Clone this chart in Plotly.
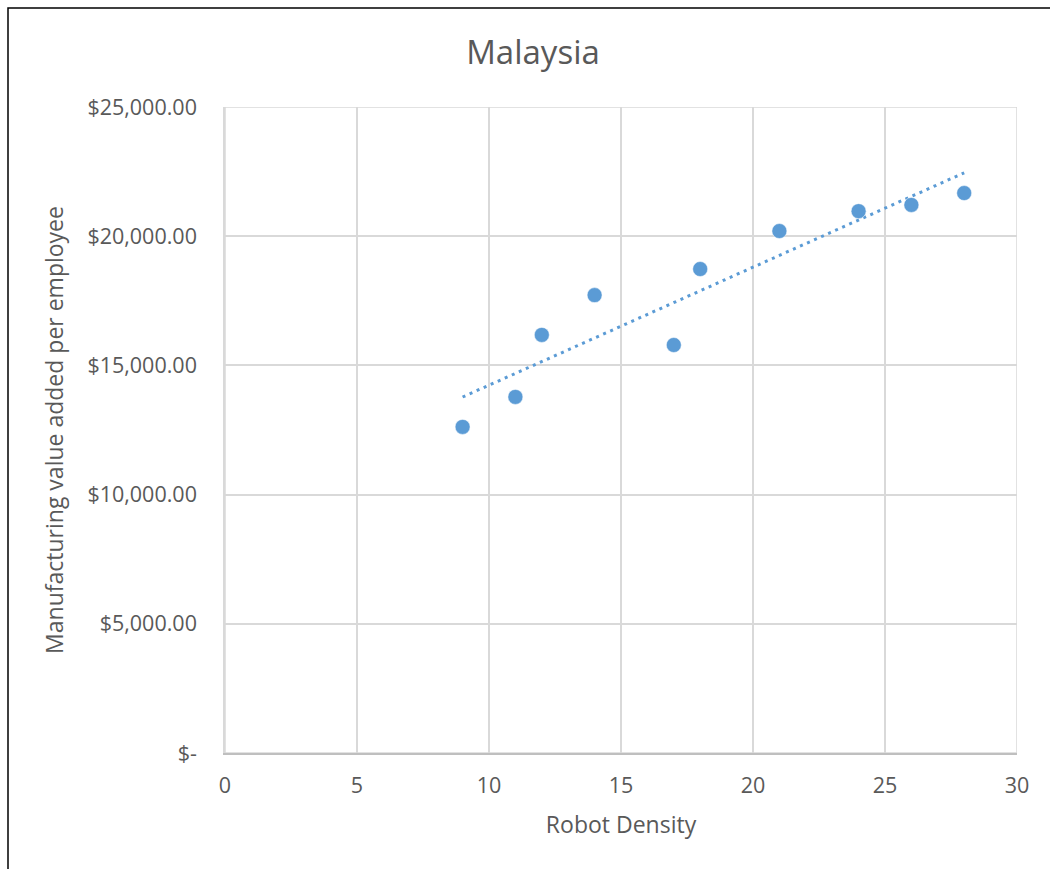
import numpy as np
import plotly.graph_objects as go

# Robot density vs. manufacturing value added per employee (Malaysia)
robot_density = [9, 11, 12, 14, 17, 18, 21, 24, 26, 28]
value_added = [12620, 13780, 16180, 17720, 15790, 18730, 20200, 20970, 21210, 21670]

y_tick_vals = [0, 5000, 10000, 15000, 20000, 25000]
y_tick_text = ["$-", "$5,000.00", "$10,000.00", "$15,000.00", "$20,000.00", "$25,000.00"]
x_tick_vals = [0, 5, 10, 15, 20, 25, 30]

# Linear trendline fitted to the series
slope, intercept = np.polyfit(robot_density, value_added, 1)
trend_x = [min(robot_density), max(robot_density)]
trend_y = [slope * v + intercept for v in trend_x]

W, H = 1050, 869
L, R, T, B = 225, 1017, 107, 753

FONT = "'Open Sans', Lato, sans-serif"
TEXT = "#595959"
GRID = "#D9D9D9"
BLUE = "#5B9BD5"

fig = go.Figure()
fig.add_trace(go.Scatter(
    x=trend_x, y=trend_y, mode="lines",
    line=dict(color=BLUE, width=3, dash="3px,4.7px"),
    hoverinfo="skip", showlegend=False,
))
fig.add_trace(go.Scatter(
    x=robot_density, y=value_added, mode="markers",
    marker=dict(color=BLUE, size=15, line=dict(color="white", width=0.5)),
    showlegend=False,
))

def px_x(p):
    return (p - L) / (R - L)

def px_y(p):
    return (B - p) / (B - T)

# Outer chart frame
fig.add_shape(type="rect", xref="paper", yref="paper",
              x0=px_x(8), x1=px_x(1060), y0=px_y(8), y1=px_y(880),
              line=dict(color="black", width=1.5), layer="below")

fig.update_layout(
    width=W, height=H,
    margin=dict(l=L, r=W - R, t=T, b=H - B),
    paper_bgcolor="white", plot_bgcolor="white",
    font=dict(family=FONT, color=TEXT, size=21),
    title=dict(text="Malaysia", x=533 / W, xanchor="center",
               y=1 - 52 / H, yanchor="middle",
               font=dict(size=33, color=TEXT, family=FONT)),
    xaxis=dict(range=[0, 30], tickvals=x_tick_vals, showgrid=True,
               gridcolor=GRID, gridwidth=1.5, zeroline=False,
               showline=True, linecolor="#BFBFBF", linewidth=1.5,
               ticks="", ticklabelstandoff=12,
               tickfont=dict(size=21.5, family=FONT, color=TEXT),
               title=dict(text="Robot Density", standoff=19,
                          font=dict(size=23, color=TEXT))),
    yaxis=dict(range=[0, 25000], tickvals=y_tick_vals, ticktext=y_tick_text,
               showgrid=True, gridcolor=GRID, gridwidth=1.5, zeroline=False,
               showline=True, linecolor=GRID, linewidth=1.5,
               ticks="", ticklabelstandoff=22,
               tickfont=dict(size=21.5, family=FONT, color=TEXT),
               title=dict(text="Manufacturing value added per employee",
                          standoff=17, font=dict(size=23, color=TEXT))),
)
# top/right border of plot area
fig.add_shape(type="rect", xref="x", yref="y", x0=0, x1=30, y0=0, y1=25000,
              line=dict(color=GRID, width=1.5), layer="below")

fig.write_html("out.html")
